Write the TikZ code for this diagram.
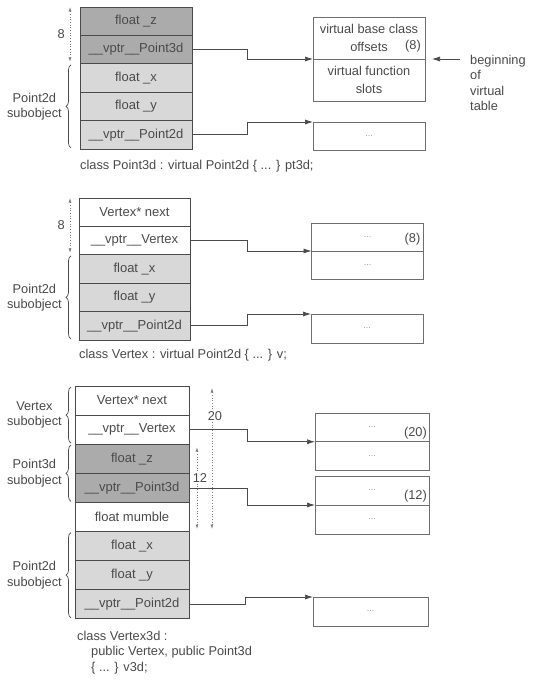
\documentclass[tikz,border=0pt]{standalone}
\usepackage{fontspec}
\setmainfont{Liberation Sans}
\usetikzlibrary{arrows.meta}
\usetikzlibrary{positioning}
\usetikzlibrary{decorations.pathreplacing}
\definecolor{inkgray}{HTML}{4A4A4A}
\definecolor{boxgray}{HTML}{6E6E6E}
\definecolor{darkfill}{HTML}{ABABAB}
\definecolor{lightfill}{HTML}{D8D8D8}
\tikzstyle{textlabel}=[text=inkgray, inner sep=1pt, font=\fontsize{12.8}{15.4}\selectfont]
\tikzstyle{sublabel}=[textlabel, align=center, inner sep=0pt]
\def\rowwd{112pt}
\def\rowht{28.4pt}

\begin{document}
\begin{tikzpicture}[x=1pt, y=-1pt,
cell/.style={rectangle, draw=inkgray, line width=1pt, minimum width=\rowwd, minimum height=\rowht, inner sep=0pt, outer sep=0pt, text=inkgray, font=\fontsize{13}{15.4}\selectfont},
darkcell/.style={cell, fill=darkfill},
lightcell/.style={cell, fill=lightfill},
whitecell/.style={cell, fill=white},
tabcell/.style={rectangle, draw=boxgray, line width=0.9pt, minimum width=112pt, inner sep=0pt, outer sep=0pt, text=black!40, font=\small},
vttext/.style={tabcell, minimum height=42pt, text=inkgray, align=center, font=\fontsize{12.8}{15.4}\selectfont},
offlabel/.style={textlabel, anchor=east},
conn/.style={draw=inkgray, line width=0.7pt, -{Latex[length=8pt, width=5pt]}},
dim/.style={draw=black!50, dotted, line width=0.7pt, {Latex[length=4.5pt, width=3pt]}-{Latex[length=4.5pt, width=3pt]}},
brc/.style={draw=inkgray, line width=0.7pt, decorate, decoration={brace, amplitude=5pt}},
]
\fill[white] (0,0) rectangle (534,686);
\useasboundingbox (0,0) rectangle (534,686);

%Nodes: Point3d object
\node[darkcell]  (t_z_node)   at (136,21.2) {float \_z};
\node[darkcell]  (t_vp3_node) [below=0pt of t_z_node]   {\_\_vptr\_\_Point3d};
\node[lightcell] (t_x_node)   [below=0pt of t_vp3_node] {float \_x};
\node[lightcell] (t_y_node)   [below=0pt of t_x_node]   {float \_y};
\node[lightcell] (t_vp2_node) [below=0pt of t_y_node]   {\_\_vptr\_\_Point2d};

\node[vttext] (t_base_node) at (369,38) {virtual base class\\[2pt]offsets};
\node[vttext] (t_func_node) [below=0pt of t_base_node] {virtual function\\[2pt]slots};
\node[offlabel] (t_off_node) at ([xshift=-3pt, yshift=13pt]t_base_node.south east) {(8)};
\node[tabcell, minimum height=28pt] (t_tab2_node) at (369,136) {...};

\node[textlabel, align=left, anchor=north west, inner sep=0pt] (t_begin_node) at ([xshift=45pt, yshift=4pt]t_base_node.south east) {beginning\\of\\virtual\\table};
\node[sublabel] (t_sub_node) [left=18pt of t_y_node.west] {Point2d\\subobject};
\node[textlabel, anchor=north west, inner sep=0pt] (t_class_node) at ([yshift=-11pt]t_vp2_node.south west) {class Point3d : virtual Point2d \{ ... \} pt3d;};

%Lines: Point3d object
\draw[conn] (t_vp3_node.east) -- ++(55,0) |- (t_base_node.south west);
\draw[conn] (t_vp2_node.east) -- ++(55,0) |- (t_tab2_node.north west);
\draw[conn] ([xshift=35pt]t_base_node.south east) -- ([xshift=7pt]t_base_node.south east);
\draw[dim] ([xshift=-10pt]t_z_node.north west) -- ([xshift=-10pt, yshift=2pt]t_x_node.north west) node[midway, textlabel, left=4pt] (t_eight_node) {8};
\draw[brc] ([xshift=-9pt, yshift=1pt]t_vp2_node.south west) -- ([xshift=-9pt, yshift=-1pt]t_x_node.north west);

%Nodes: Vertex object
\def\rowwd{111pt}
\node[whitecell] (m_next_node) at (134.5,212.2) {Vertex* next};
\node[whitecell] (m_vv_node)   [below=0pt of m_next_node] {\_\_vptr\_\_Vertex};
\node[lightcell] (m_x_node)    [below=0pt of m_vv_node]   {float \_x};
\node[lightcell] (m_y_node)    [below=0pt of m_x_node]    {float \_y};
\node[lightcell] (m_vp2_node)  [below=0pt of m_y_node]    {\_\_vptr\_\_Point2d};

\node[tabcell, minimum height=28pt] (m_tab1a_node) at (367.5,237) {...};
\node[tabcell, minimum height=28pt] (m_tab1b_node) [below=0pt of m_tab1a_node] {...};
\node[offlabel] (m_off_node) at ([xshift=-2pt, yshift=12pt]m_tab1a_node.south east) {(8)};
\node[tabcell, minimum height=29pt] (m_tab2_node) at (367,328.5) {...};

\node[sublabel] (m_sub_node) [left=17pt of m_y_node.west] {Point2d\\subobject};
\node[textlabel, anchor=north west, inner sep=0pt] (m_class_node) at ([yshift=-9pt]m_vp2_node.south west) {class Vertex : virtual Point2d \{ ... \} v;};

%Lines: Vertex object
\draw[conn] (m_vv_node.east) -- ++(57,0) |- (m_tab1a_node.south west);
\draw[conn] (m_vp2_node.east) -- ++(57,0) |- (m_tab2_node.north west);
\draw[dim] ([xshift=-9pt]m_next_node.north west) -- ([xshift=-9pt, yshift=2pt]m_x_node.north west) node[midway, textlabel, left=4pt] (m_eight_node) {8};
\draw[brc] ([xshift=-8pt, yshift=1pt]m_vp2_node.south west) -- ([xshift=-8pt, yshift=-1pt]m_x_node.north west);

%Nodes: Vertex3d object
\def\rowwd{114pt}
\def\rowht{29.1pt}
\node[whitecell] (b_next_node) at (132,400.55) {Vertex* next};
\node[whitecell] (b_vv_node)   [below=0pt of b_next_node] {\_\_vptr\_\_Vertex};
\node[darkcell]  (b_z_node)    [below=0pt of b_vv_node]   {float \_z};
\node[darkcell]  (b_vp3_node)  [below=0pt of b_z_node]    {\_\_vptr\_\_Point3d};
\node[whitecell] (b_mum_node)  [below=0pt of b_vp3_node]  {float mumble};
\node[lightcell] (b_x_node)    [below=0pt of b_mum_node]  {float \_x};
\node[lightcell] (b_y_node)    [below=0pt of b_x_node]    {float \_y};
\node[lightcell] (b_vp2_node)  [below=0pt of b_y_node]    {\_\_vptr\_\_Point2d};

\node[tabcell, minimum width=114pt, minimum height=28.5pt] (b_tab1a_node) at (372,427.5) {...};
\node[tabcell, minimum width=114pt, minimum height=28.5pt] (b_tab1b_node) [below=0pt of b_tab1a_node] {...};
\node[offlabel] (b_off1_node) at ([xshift=-1pt, yshift=9pt]b_tab1a_node.south east) {(20)};
\node[tabcell, minimum width=114pt, minimum height=29pt] (b_tab2a_node) at (372,490.5) {...};
\node[tabcell, minimum width=114pt, minimum height=29pt] (b_tab2b_node) [below=0pt of b_tab2a_node] {...};
\node[offlabel] (b_off2_node) at ([xshift=-1pt, yshift=9pt]b_tab2a_node.south east) {(12)};
\node[tabcell, minimum width=115pt, minimum height=29pt] (b_tab3_node) at (370.5,611.5) {...};

\node[sublabel] (b_subv_node) [left=13pt of b_next_node.south west] {Vertex\\subobject};
\node[sublabel] (b_subp3_node) [left=13pt of b_z_node.south west] {Point3d\\subobject};
\node[sublabel] (b_subp2_node) [left=13pt of b_y_node.west] {Point2d\\subobject};
\node[textlabel, anchor=north west, inner sep=0pt, align=left] (b_class_node) at ([xshift=2pt, yshift=-12pt]b_vp2_node.south west) {class Vertex3d :\\\hspace{14pt}public Vertex, public Point3d\\\hspace{14pt}\{ ... \} v3d;};

%Lines: Vertex3d object
\draw[conn] (b_vv_node.east) -- ++(58,0) |- (b_tab1a_node.south west);
\draw[conn] (b_vp3_node.east) -- ++(58,0) |- (b_tab2a_node.south west);
\draw[conn] (b_vp2_node.east) -- ++(56,0) |- (b_tab3_node.north west);
\draw[dim] ([xshift=23pt, yshift=-2pt]b_next_node.north east) -- ([xshift=23pt, yshift=2.5pt]b_x_node.north east) node[pos=0.2, textlabel, fill=white, xshift=3pt] (b_twenty_node) {20};
\draw[dim] ([xshift=8pt, yshift=-3pt]b_z_node.north east) -- ([xshift=8pt, yshift=2.5pt]b_x_node.north east) node[pos=0.38, textlabel, fill=white, xshift=3pt] (b_twelve_node) {12};
\draw[brc] ([xshift=-4pt, yshift=1pt]b_vv_node.south west) -- ([xshift=-4pt, yshift=-1pt]b_next_node.north west);
\draw[brc] ([xshift=-4pt, yshift=1pt]b_vp3_node.south west) -- ([xshift=-4pt, yshift=-1pt]b_z_node.north west);
\draw[brc] ([xshift=-4pt, yshift=1pt]b_vp2_node.south west) -- ([xshift=-4pt, yshift=-1pt]b_x_node.north west);

\end{tikzpicture}
\end{document}
